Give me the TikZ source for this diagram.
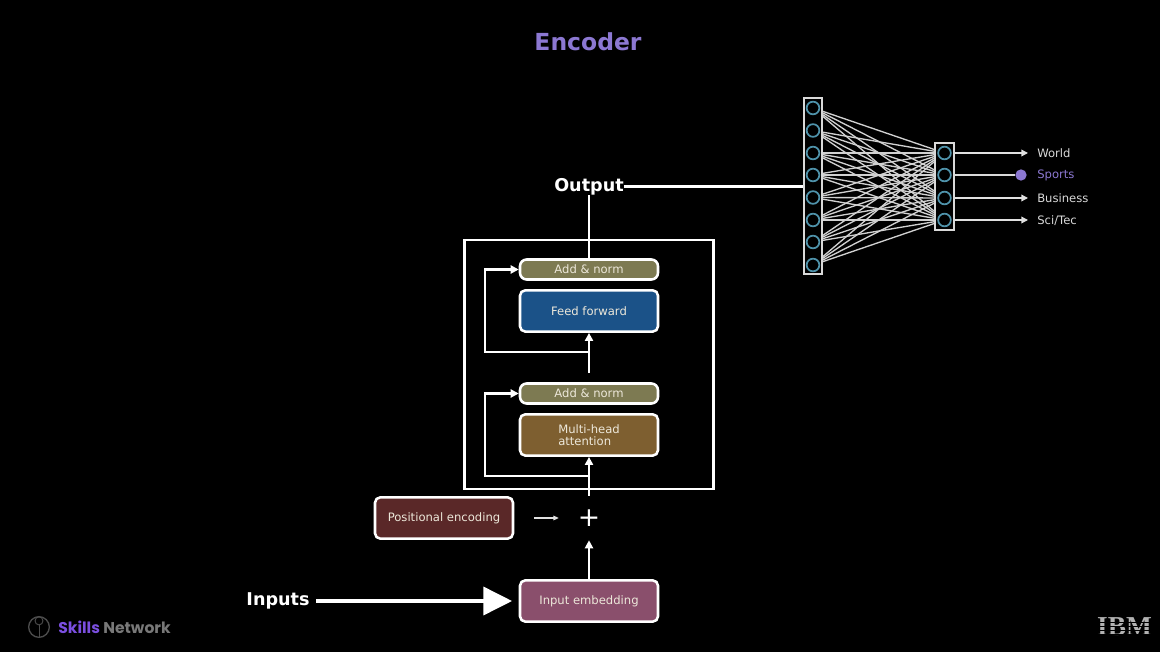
\documentclass[tikz,border=0pt]{standalone}
\usepackage{fontspec}
\setmainfont{DejaVu Sans}
\newfontfamily\logofont{Poppins}
\newfontfamily\ibmfont{Liberation Serif}
\usetikzlibrary{arrows.meta,positioning,backgrounds}
\definecolor{titlepurple}{HTML}{8C78D2}
\definecolor{normfill}{HTML}{7D7A52}
\definecolor{feedfill}{HTML}{1B5288}
\definecolor{headfill}{HTML}{7E5F30}
\definecolor{posfill}{HTML}{5A2828}
\definecolor{embedfill}{HTML}{8A4F6C}
\definecolor{neuron}{HTML}{4F93AB}
\definecolor{boxtext}{HTML}{EDE8DA}
\definecolor{skillspurple}{HTML}{7B4FE0}
\tikzstyle{block} = [rectangle, draw=white, line width=1.9pt, text=boxtext,
    minimum width=103.5pt, minimum height=31pt, rounded corners=4pt,
    font=\fontsize{8.7}{8.7}\selectfont]
\tikzstyle{norm} = [block, fill=normfill, minimum height=15pt, rounded corners=5pt]
\tikzstyle{layerbox} = [rectangle, draw=white!85!black, line width=1.3pt, fill=black,
    minimum width=14pt, inner sep=0pt]
\tikzstyle{neuronnode} = [circle, draw=neuron, line width=1.3pt, minimum size=9.5pt, inner sep=0pt]
\tikzstyle{line} = [draw=white, line width=1.6pt, -{Triangle[length=6pt, width=6pt]}]
\tikzstyle{thinline} = [draw=white!88!black, line width=1pt, -{Triangle[length=5pt, width=5pt]}]
\tikzstyle{plainline} = [draw=white, line width=1.8pt]
\tikzstyle{weight} = [draw=white!82!black, line width=1pt]
\tikzstyle{classname} = [anchor=west, inner sep=0pt, text=white!85!black, font=\fontsize{8.7}{8.7}\selectfont]
\tikzstyle{bigname} = [text=white, inner sep=0pt, font=\fontsize{13.2}{13.2}\selectfont\bfseries]
\begin{document}
\begin{tikzpicture}[x=0.75pt, y=-0.75pt]
  \useasboundingbox (0,0) rectangle (1160,652);
  \begin{scope}[on background layer]
    \fill [black] (0,0) rectangle (1160,652);
  \end{scope}

  % Place nodes
  \node [text=titlepurple, font=\fontsize{17.6}{17.6}\selectfont\bfseries] (title) at (588,42) {Encoder};

  \node [norm] (addtop) at (589,269.5) {Add \& norm};
  \node [block, fill=feedfill, below of=addtop, node distance=31.1pt] (feed) {Feed forward};
  \node [norm, below of=feed, node distance=61.9pt] (addlow) {Add \& norm};
  \node [block, fill=headfill, below of=addlow, node distance=31.1pt, align=left] (attention) {Multi-head\\attention};
  \node [block, fill=embedfill] (embed) at (589,601) {Input embedding};
  \node [minimum size=33pt, inner sep=0pt, text=white, font=\fontsize{20}{20}\selectfont] (plus) at (589,518) {+};
  \node [block, fill=posfill] (posenc) at (444,518) {Positional encoding};
  \node [bigname] (output) at (589,186.5) {Output};
  \node [bigname] (inputs) at (278,601) {Inputs};

  \node [draw=white, line width=1.9pt, minimum width=186.5pt, minimum height=187pt] (encoder) at (589,364.5) {};

  \node [layerbox, minimum height=132pt] (hidden) at (813,186) {};
  \node [layerbox, minimum height=65pt] (classes) at (944.5,186.5) {};
  \foreach \i/\y in {1/108,2/130.5,3/153,4/175,5/197.5,6/220,7/242,8/265}
    \node [neuronnode] (h\i) at (813,\y) {};
  \foreach \j/\y in {1/153,2/175,3/198,4/220}
    \node [neuronnode] (c\j) at (944.5,\y) {};

  \node [classname] (world) at (1037,153.5) {World};
  \node [classname, text=titlepurple] (sports) at (1037,175) {Sports};
  \node [classname] (business) at (1037,198.5) {Business};
  \node [classname] (scitec) at (1037,220.5) {Sci/Tec};
  \node [circle, fill=titlepurple, minimum size=8.5pt, inner sep=0pt] (sportsdot) at (1021,175) {};

  \coordinate (skiplow) at (589,476);
  \coordinate (cornerlow) at (485,476);
  \coordinate (skiptop) at (589,352);
  \coordinate (cornertop) at (485,352);
  \coordinate (feedin) at (589,373);
  \coordinate (worldend) at (1028,153);
  \coordinate (businessend) at (1028,198);
  \coordinate (scitecend) at (1028,220);

  % paths
  \begin{scope}[on background layer]
    \foreach \i in {1,...,8}
      \foreach \j in {1,...,4}
        \draw [weight] (h\i) -- (c\j);
  \end{scope}

  \path [line] (embed) -- (plus);
  \path [line] (plus) -- (attention);
  \path [thinline, line width=0.8pt, -{Triangle[length=4pt, width=3.5pt]}, shorten <=15pt, shorten >=6pt] (posenc) -- (plus);
  \path [line] (skiplow) -- (cornerlow) |- (addlow);
  \path [line] (feedin) -- (feed);
  \path [line] (skiptop) -- (cornertop) |- (addtop);
  \path [plainline] (addtop) -- (output);
  \path [plainline] (output.east) -- (output.east -| hidden.west);
  \path [draw=white, line width=2.6pt, -{Triangle[length=21.5pt, width=21pt]}, shorten >=5pt] (inputs.east) ++(5pt,0) -- (embed.west |- inputs.east);

  \path [thinline] (classes.east |- c1) -- (worldend);
  \path [draw=white!85!black, line width=1pt] (classes.east |- c2) -- (sportsdot);
  \path [thinline] (classes.east |- c3) -- (businessend);
  \path [thinline] (classes.east |- c4) -- (scitecend);

  % logos
  \node [circle, draw=white!30!black, line width=1pt, minimum size=15.5pt, inner sep=0pt] (logo) at (39,627) {};
  \node [circle, draw=white!30!black, line width=0.7pt, minimum size=6pt, inner sep=0pt, above=-7pt of logo] (logotree) {};
  \draw [white!30!black, line width=0.7pt] (logotree) -- (logo.south);
  \node [anchor=west, inner sep=0pt, font=\fontsize{11.7}{11.7}\logofont\bfseries] (skills) at (58,627)
    {\textcolor{skillspurple}{Skills} \textcolor{white!47!black}{Network}};

  \node [inner sep=0pt, text=white!70!black, font=\fontsize{20.5}{20.5}\ibmfont\bfseries] (ibm) at (1124.5,627) {IBM};
  \foreach \y in {622,626,630,634}
    \draw [black, line width=0.45pt] (1095,\y) -- (1153,\y);
\end{tikzpicture}
\end{document}
